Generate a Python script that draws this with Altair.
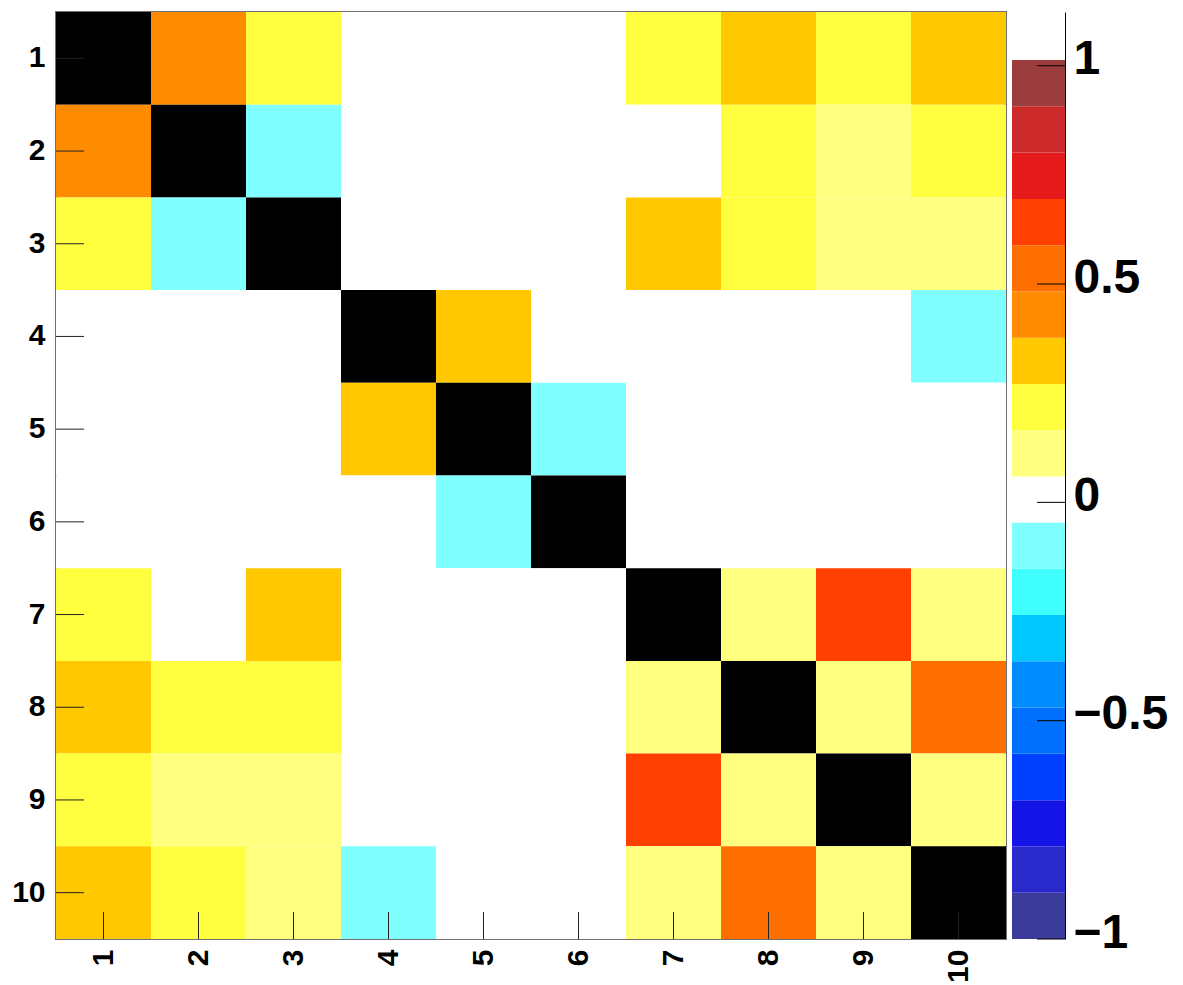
import altair as alt
import pandas as pd

# ---- data -------------------------------------------------------------
labels = [1, 2, 3, 4, 5, 6, 7, 8, 9, 10]

matrix = [
    [1.0, 0.4, 0.2, 0.0, 0.0, 0.0, 0.2, 0.3, 0.2, 0.3],
    [0.4, 1.0, -0.1, 0.0, 0.0, 0.0, 0.0, 0.2, 0.1, 0.2],
    [0.2, -0.1, 1.0, 0.0, 0.0, 0.0, 0.3, 0.2, 0.1, 0.1],
    [0.0, 0.0, 0.0, 1.0, 0.3, 0.0, 0.0, 0.0, 0.0, -0.1],
    [0.0, 0.0, 0.0, 0.3, 1.0, -0.1, 0.0, 0.0, 0.0, 0.0],
    [0.0, 0.0, 0.0, 0.0, -0.1, 1.0, 0.0, 0.0, 0.0, 0.0],
    [0.2, 0.0, 0.3, 0.0, 0.0, 0.0, 1.0, 0.1, 0.65, 0.1],
    [0.3, 0.2, 0.2, 0.0, 0.0, 0.0, 0.1, 1.0, 0.1, 0.5],
    [0.2, 0.1, 0.1, 0.0, 0.0, 0.0, 0.65, 0.1, 1.0, 0.1],
    [0.3, 0.2, 0.1, -0.1, 0.0, 0.0, 0.1, 0.5, 0.1, 1.0],
]

# palette level edges (19 bands) and colours, bottom to top
level_edges = [-1.000, -0.894, -0.788, -0.682, -0.576, -0.470, -0.364, -0.258,
               -0.152, -0.046, 0.059, 0.165, 0.271, 0.377, 0.483, 0.589,
               0.695, 0.801, 0.907, 1.013]
palette = ["#3b3b99", "#2a2acc", "#1414e6", "#0040ff", "#0070ff", "#008cff",
           "#00c8ff", "#40ffff", "#80ffff", "#ffffff", "#ffff80", "#ffff40",
           "#ffc800", "#ff8c00", "#ff6f00", "#ff4000", "#e51a1a", "#cc2a2a",
           "#9b3d3d"]
diag_color = "#000000"

cbar_ticks = [-1, -0.5, 0, 0.5, 1]

# ---- tables -----------------------------------------------------------
cells = pd.DataFrame(
    [{"row": labels[i], "col": labels[j], "v": matrix[i][j]}
     for i in range(len(labels)) for j in range(len(labels))]
)
ticks_df = pd.DataFrame({"row": labels, "col": labels})
bands = pd.DataFrame({
    "lo": level_edges[:-1],
    "hi": level_edges[1:],
    "color": palette,
})
cbt = pd.DataFrame({"v": cbar_ticks})

FONT = "Liberation Sans"
W, H = 950, 927
CBW = 53

color_scale = alt.Scale(type="threshold",
                        domain=level_edges[1:-1] + [0.999],
                        range=palette + [diag_color])

xs = alt.Scale(paddingInner=0, paddingOuter=0)
ys = alt.Scale(paddingInner=0, paddingOuter=0)

rects = alt.Chart(cells).mark_rect(strokeWidth=0).encode(
    x=alt.X("col:O", scale=xs,
            axis=alt.Axis(title=None, ticks=False, domain=False, labelAngle=270,
                          labelFont=FONT, labelFontSize=30, labelFontWeight="bold",
                          labelColor="black", labelPadding=10)),
    y=alt.Y("row:O", scale=ys,
            axis=alt.Axis(title=None, ticks=False, domain=False,
                          labelFont=FONT, labelFontSize=30, labelFontWeight="bold",
                          labelColor="black", labelPadding=11,
                          minExtent=47, maxExtent=47)),
    color=alt.Color("v:Q", scale=color_scale, legend=None),
)

yticks = alt.Chart(ticks_df).mark_rule(color="#222222", strokeWidth=1).encode(
    y=alt.Y("row:O"),
    x=alt.value(0),
    x2=alt.value(28),
)
xticks = alt.Chart(ticks_df).mark_rule(color="#222222", strokeWidth=1).encode(
    x=alt.X("col:O"),
    y=alt.value(H - 27),
    y2=alt.value(H),
)

heat = alt.layer(rects, yticks, xticks).properties(
    width=W, height=H,
    view=alt.ViewBackground(stroke="#707070", strokeWidth=2),
)

cscale = alt.Scale(domain=[-1, 1.123], nice=False, zero=False)
cb_rects = alt.Chart(bands).mark_rect(strokeWidth=0).encode(
    y=alt.Y("lo:Q", scale=cscale,
            axis=alt.Axis(orient="right", title=None, ticks=False, grid=False,
                          domain=True, domainColor="black", domainWidth=1,
                          values=cbar_ticks, format="~g",
                          labelFont=FONT, labelFontSize=48, labelFontWeight="bold",
                          labelColor="black", labelPadding=8, labelOffset=-6)),
    y2="hi:Q",
    x=alt.value(0),
    x2=alt.value(CBW),
    color=alt.Color("color:N", scale=None),
)
cb_ticks = alt.Chart(cbt).mark_rule(color="black", strokeWidth=1).encode(
    y=alt.Y("v:Q", scale=cscale),
    x=alt.value(CBW - 28),
    x2=alt.value(CBW),
)
cbar = alt.layer(cb_rects, cb_ticks).properties(
    width=CBW, height=H,
    view=alt.ViewBackground(stroke=None),
)

chart = alt.hconcat(heat, cbar, spacing=5).resolve_scale(
    x="independent", y="independent", color="independent"
).properties(
    padding={"left": 0, "top": 3, "right": 5, "bottom": 5},
    background="white",
).configure_view(stroke=None)

chart.save("out.html", embed_options={"renderer": "svg", "actions": False})
